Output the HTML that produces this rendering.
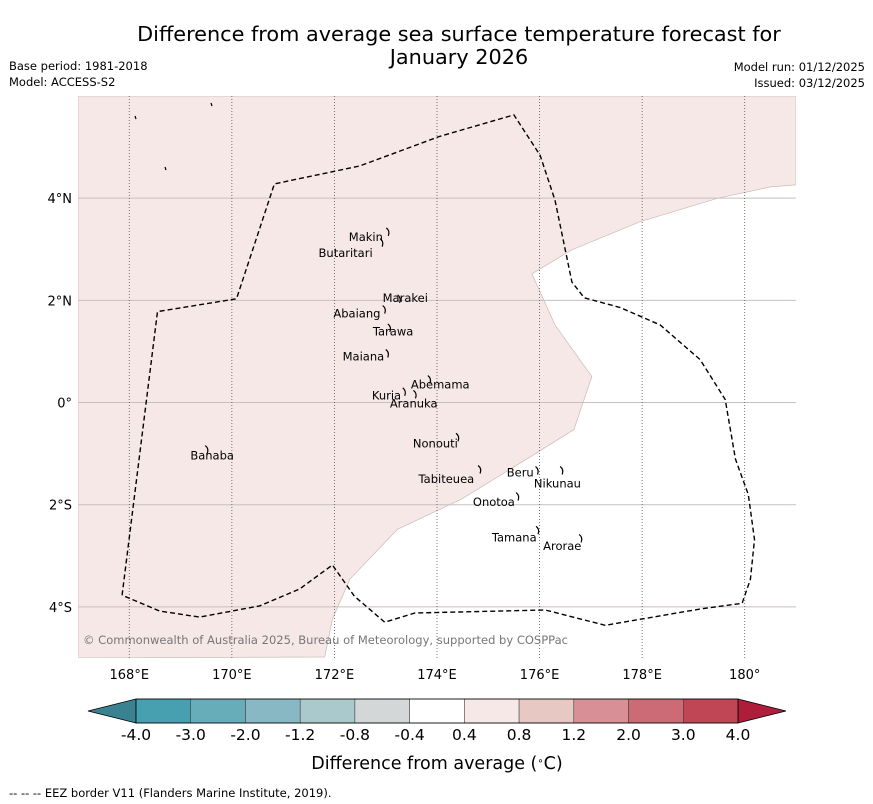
<!DOCTYPE html>
<html><head><meta charset="utf-8">
<style>
body{margin:0;background:#fff;width:873px;height:804px;overflow:hidden;font-family:"DejaVu Sans","Liberation Sans",sans-serif;}
svg{display:block}
</style></head>
<body>
<svg id="chart" width="873" height="804" xmlns="http://www.w3.org/2000/svg">
<text x="459" y="41" font-size="20.8" text-anchor="middle" fill="#000">Difference from average sea surface temperature forecast for</text>
<text x="459" y="64" font-size="20.8" text-anchor="middle" fill="#000">January 2026</text>
<text x="9" y="70" font-size="11.5">Base period: 1981-2018</text>
<text x="9" y="86" font-size="11.5">Model: ACCESS-S2</text>
<text x="865" y="71" font-size="11.5" text-anchor="end">Model run: 01/12/2025</text>
<text x="865" y="87" font-size="11.5" text-anchor="end">Issued: 03/12/2025</text>
<g id="map"></g>
<g id="cbar"></g>
<text x="437" y="769" font-size="17.5" text-anchor="middle">Difference from average (<tspan baseline-shift="super" font-size="10">∘</tspan>C)</text>
<text x="9" y="797" font-size="11.5">--  --  -- EEZ border V11 (Flanders Marine Institute, 2019).</text>
</svg>
<script>
const lonTicks=[168,170,172,174,176,178,180];
const lonTickLabels=["168°E","170°E","172°E","174°E","176°E","178°E","180°"];
const latTicks=[4,2,0,-2,-4];
const latTickLabels=["4°N","2°N","0°","2°S","4°S"];
const anomLon=[181.0,180.5,179.48,177.96,176.63,175.85,176.3,177.02,176.67,175.81,174.48,173.23,172.3,171.96,171.81];
const anomLat=[4.26,4.22,4.0,3.54,2.99,2.52,1.52,0.51,-0.53,-1.07,-1.89,-2.48,-3.46,-4.24,-4.98];
const eezLon=[167.86,168.55,170.09,170.83,172.49,174.05,175.5,176.01,176.3,176.63,176.87,177.57,178.35,179.13,179.62,179.82,180.07,180.19,180.11,179.95,179.13,177.28,176.11,173.57,172.98,172.39,171.96,171.32,170.54,169.37,168.59,167.86];
const eezLat=[-3.77,1.78,2.03,4.28,4.63,5.21,5.63,4.84,3.96,2.36,2.05,1.86,1.52,0.84,0.06,-1.11,-1.8,-2.68,-3.46,-3.93,-4.04,-4.36,-4.06,-4.12,-4.3,-3.79,-3.18,-3.65,-3.98,-4.2,-4.08,-3.77];
const islandNames=["Makin","Butaritari","Marakei","Abaiang","Tarawa","Maiana","Abemama","Kuria","Aranuka","Nonouti","Banaba","Beru","Tabiteuea","Nikunau","Onotoa","Tamana","Arorae"];
const islandLon=[173.05,172.93,173.27,172.98,173.08,173.04,173.86,173.37,173.58,174.41,169.52,175.96,174.84,176.44,175.58,175.97,176.81];
const islandLat=[3.34,3.13,2.03,1.82,1.46,0.96,0.45,0.21,0.16,-0.68,-0.92,-1.33,-1.31,-1.33,-1.84,-2.5,-2.66];
const labelLon=[172.28,171.69,172.94,171.98,172.75,172.16,173.49,172.73,173.08,173.53,169.19,175.36,173.64,175.89,174.7,175.07,176.07];
const labelLat=[3.24,2.93,2.05,1.74,1.39,0.9,0.35,0.14,-0.02,-0.8,-1.04,-1.37,-1.5,-1.58,-1.95,-2.64,-2.81];
const cbarLevels=["-4.0","-3.0","-2.0","-1.2","-0.8","-0.4","0.4","0.8","1.2","2.0","3.0","4.0"];
const cbarColors=["#46a0b0","#67adb9","#88b8c3","#a9c9cc","#d3d7d7","#ffffff","#f5e8e6","#e8c8c3","#d88f95","#cc6a75","#c04656"];
const cbarUnder="#3a8291", cbarOver="#ae1e3b";

const NS="http://www.w3.org/2000/svg";
const X0=78,X1=796,Y0=96,Y1=658;
const LON0=167,LON1=181,LAT0=-5,LAT1=6;
const xs=l=>X0+(l-LON0)/(LON1-LON0)*(X1-X0);
const ys=l=>Y1-(l-LAT0)/(LAT1-LAT0)*(Y1-Y0);
function mk(tag,attrs,parent){const e=document.createElementNS(NS,tag);for(const k in attrs)e.setAttribute(k,attrs[k]);parent.appendChild(e);return e;}
const map=document.getElementById('map');
const cp=mk('clipPath',{id:'mc'},map);mk('rect',{x:X0,y:Y0,width:X1-X0,height:Y1-Y0},cp);
const g=mk('g',{'clip-path':'url(#mc)'},map);
let d=`M${X0},${Y0} L${X1},${Y0}`;
anomLon.forEach((l,i)=>{d+=` L${xs(l).toFixed(1)},${ys(anomLat[i]).toFixed(1)}`;});
d+=` L${X0},${Y1} Z`;
const reg=mk('path',{d:d,fill:'#f5e8e6',stroke:'#cdb9b7','stroke-width':0.7},g);


latTicks.forEach((t,i)=>{
 const y=ys(t);
 const ln=mk('line',{x1:X0,x2:X1,y1:y,y2:y,stroke:'#c9bfbf','stroke-width':1},g);
 
 
 const tx=mk('text',{x:X0-6,y:y+5,'font-size':13,'text-anchor':'end'},map);tx.textContent=latTickLabels[i];
 
 
});
lonTicks.forEach((t,i)=>{
 const x=xs(t);
 const ln=mk('line',{x1:x,x2:x,y1:Y0,y2:Y1,stroke:'#555','stroke-width':0.8,'stroke-dasharray':'1,2'},g);
 
 
 const tx=mk('text',{x:x,y:Y1+21,'font-size':13,'text-anchor':'middle'},map);tx.textContent=lonTickLabels[i];
 
 
});
let e='';eezLon.forEach((l,i)=>{e+=(i?' L':'M')+xs(l).toFixed(1)+','+ys(eezLat[i]).toFixed(1);});
const eez=mk('path',{d:e,fill:'none',stroke:'#000','stroke-width':1.4,'stroke-dasharray':'5,3'},g);


islandNames.forEach((n,i)=>{
 const x=xs(islandLon[i]),y=ys(islandLat[i]);
 const m=mk('path',{d:`M${x-2},${y-4} q4,3 2,8`,fill:'none',stroke:'#000','stroke-width':1.2},g);
 
 
 const t=mk('text',{x:xs(labelLon[i]),y:ys(labelLat[i])+4,'font-size':11.5,'text-anchor':'start'},g);
 t.textContent=n;
 
 
});
[[135,116],[165,167],[211,103]].forEach(p=>{mk('path',{d:`M${p[0]},${p[1]} l1,3`,stroke:'#000','stroke-width':1.2},g);});
const cr=mk('text',{x:83,y:644,'font-size':11.5,fill:'#777',textLength:485},g);
cr.textContent='© Commonwealth of Australia 2025, Bureau of Meteorology, supported by COSPPac';


const cb=document.getElementById('cbar');
const CX0=136,CX1=738,CY0=699,CY1=723,n=cbarColors.length,w=(CX1-CX0)/n;
mk('path',{d:`M${CX0},${CY0} L88,${(CY0+CY1)/2} L${CX0},${CY1} Z`,fill:cbarUnder,stroke:'#000','stroke-width':0.8},cb);
mk('path',{d:`M${CX1},${CY0} L786,${(CY0+CY1)/2} L${CX1},${CY1} Z`,fill:cbarOver,stroke:'#000','stroke-width':0.8},cb);
cbarColors.forEach((c,i)=>{
 const r=mk('rect',{x:CX0+i*w,y:CY0,width:w,height:CY1-CY0,fill:c,stroke:'#333','stroke-width':0.5},cb);
 
 
});
mk('rect',{x:CX0,y:CY0,width:CX1-CX0,height:CY1-CY0,fill:'none',stroke:'#000','stroke-width':0.8},cb);
cbarLevels.forEach((l,i)=>{
 const t=mk('text',{x:CX0+i*w,y:740,'font-size':15.5,'text-anchor':'middle'},cb);
 t.textContent=l;
 
 
});
</script>
</body></html>
